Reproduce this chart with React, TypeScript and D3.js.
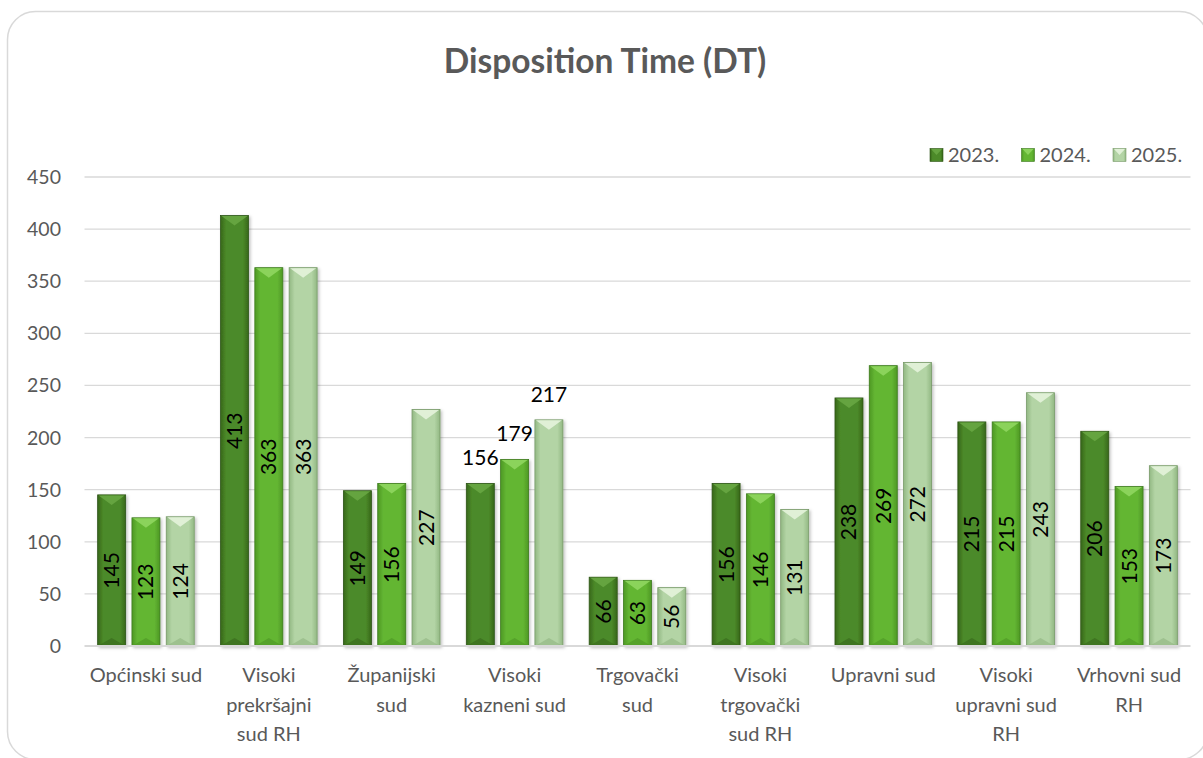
import React from "react";
import * as d3 from "d3";

const categories = [
  "Općinski sud",
  "Visoki\nprekršajni\nsud RH",
  "Županijski\nsud",
  "Visoki\nkazneni sud",
  "Trgovački\nsud",
  "Visoki\ntrgovački\nsud RH",
  "Upravni sud",
  "Visoki\nupravni sud\nRH",
  "Vrhovni sud\nRH",
];
const seriesNames = ["2023.", "2024.", "2025."];
const values2023 = [145, 413, 149, 156, 66, 156, 238, 215, 206];
const values2024 = [123, 363, 156, 179, 63, 146, 269, 215, 153];
const values2025 = [124, 363, 227, 217, 56, 131, 272, 243, 173];
const yTicks = [0, 50, 100, 150, 200, 250, 300, 350, 400, 450];
const outsideLabelCategory = 3;

const seriesValues = [values2023, values2024, values2025];
const palettes = [
  { edge: "#37671a", mid: "#4c8a29", top: "#68a643", bottom: "#335f18", stroke: "#2d5515" },
  { edge: "#4d9824", mid: "#64b633", top: "#8fd65f", bottom: "#488d22", stroke: "#3d7b1e" },
  { edge: "#92b883", mid: "#b3d4a5", top: "#e4f3dc", bottom: "#8aae7a", stroke: "#789a69" },
];

const W = 1203;
const H = 758;
const FONT = "Lato, 'Open Sans', sans-serif";

export default function App() {
  const x0 = d3.scaleBand<number>().domain(d3.range(categories.length)).range([84.5, 1190.5]).paddingInner(0).paddingOuter(0);
  const y = d3.scaleLinear().domain([0, 450]).range([646, 177]);
  const barW = 28;
  const gap = 6.3;
  const groupW = barW * 3 + gap * 2;
  const x1 = d3.scaleBand<number>().domain([0, 1, 2]).range([0, groupW]).paddingInner(gap / (barW + gap));

  return (
    <svg width={W} height={H} style={{ position: "absolute", left: 0, top: 0, background: "#fff" }}>
      <defs>
        {palettes.map((p, i) => (
          <linearGradient id={`g${i}`} key={i} x1="0" x2="1" y1="0" y2="0">
            <stop offset="0" stopColor={p.edge} />
            <stop offset="0.2" stopColor={p.mid} />
            <stop offset="0.8" stopColor={p.mid} />
            <stop offset="1" stopColor={p.edge} />
          </linearGradient>
        ))}
        <filter id="sh" x="-20%" y="-5%" width="150%" height="115%">
          <feDropShadow dx="1.5" dy="1.5" stdDeviation="1.5" floodColor="#000" floodOpacity="0.25" />
        </filter>
      </defs>
      <rect x={7.5} y={11.5} width={1200} height={748} rx={28} ry={28} fill="#fff" stroke="#d9d9d9" strokeWidth={1.5} />
      <text x={605} y={73} textAnchor="middle" fontFamily={FONT} fontWeight="bold" fontSize={33.5} fill="#595959">
        Disposition Time (DT)
      </text>

      {yTicks.map((t) => (
        <g key={t}>
          {t > 0 && <line x1={84.5} x2={1190.5} y1={y(t)} y2={y(t)} stroke="#d9d9d9" strokeWidth={1.3} />}
          <text x={61} y={y(t) + 7} textAnchor="end" fontFamily={FONT} fontSize={19.5} fill="#595959">
            {t}
          </text>
        </g>
      ))}

      {categories.map((c, ci) => {
        const gx = (x0(ci) as number) + (x0.bandwidth() - groupW) / 2;
        const lx = (x0(ci) as number) + x0.bandwidth() / 2;
        return (
          <g key={ci}>
            {seriesValues.map((vals, si) => {
              const v = vals[ci];
              const bx = gx + (x1(si) as number);
              const w = x1.bandwidth();
              const by = y(v);
              const bh = y(0) - by;
              const p = palettes[si];
              const b = Math.min(10, bh / 3);
              const cx = bx + w / 2;
              return (
                <g key={si}>
                  <rect x={bx} y={by} width={w} height={bh} fill={`url(#g${si})`} stroke={p.stroke} strokeWidth={0.8} filter="url(#sh)" />
                  <polygon points={`${bx + 1},${by + 0.5} ${bx + w - 1},${by + 0.5} ${cx},${by + b}`} fill={p.top} opacity={0.9} />
                  <polygon points={`${bx + 1},${y(0) - 0.5} ${bx + w - 1},${y(0) - 0.5} ${cx},${y(0) - Math.min(8, bh / 3)}`} fill={p.bottom} opacity={0.5} />
                  {ci === outsideLabelCategory ? (
                    <text x={cx} y={by - 18} textAnchor="middle" fontFamily={FONT} fontSize={21} fill="#000">
                      {v}
                    </text>
                  ) : (
                    <text
                      transform={`translate(${cx + 7.5},${by + bh / 2}) rotate(-90)`}
                      textAnchor="middle"
                      fontFamily={FONT}
                      fontSize={21}
                      fill="#000"
                    >
                      {v}
                    </text>
                  )}
                </g>
              );
            })}
            <text x={lx} y={682} textAnchor="middle" fontFamily={FONT} fontSize={20} fill="#595959">
              {c.split("\n").map((line, li) => (
                <tspan key={li} x={lx} dy={li === 0 ? 0 : 29.5}>
                  {line}
                </tspan>
              ))}
            </text>
          </g>
        );
      })}

      <line x1={84.5} x2={1190.5} y1={y(0)} y2={y(0)} stroke="#d9d9d9" strokeWidth={2} />

      {seriesNames.map((s, i) => {
        const lx = 930 + i * 91.5;
        const p = palettes[i];
        return (
          <g key={s}>
            <rect x={lx} y={148.5} width={13} height={13} fill={`url(#g${i})`} stroke={p.stroke} strokeWidth={0.6} />
            <polygon points={`${lx + 1},${149} ${lx + 12},${149} ${lx + 6.5},${155}`} fill={p.top} opacity={0.9} />
            <text x={lx + 18} y={162} fontFamily={FONT} fontSize={20} fill="#595959">
              {s}
            </text>
          </g>
        );
      })}
    </svg>
  );
}
